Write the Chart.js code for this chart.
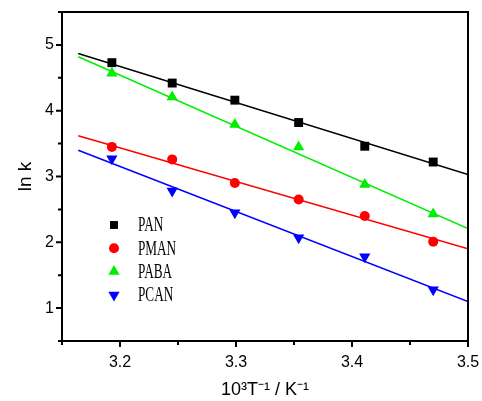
<!DOCTYPE html>
<html>
<head>
<meta charset="utf-8">
<script src="https://cdn.jsdelivr.net/npm/chart.js@4"></script>
<style>
  html, body { margin: 0; padding: 0; background: #fff; }
  #wrap { width: 482px; height: 401px; }
</style>
</head>
<body>
<div id="wrap"><canvas id="arrhenius"></canvas></div>
<script>
// 10^3 / T values (K^-1)
const invT = [3.193, 3.245, 3.299, 3.354, 3.411, 3.470];

// ln k for each polymer
const panK  = [4.73, 4.42, 4.16, 3.82, 3.46, 3.22];
const pmanK = [3.45, 3.26, 2.90, 2.65, 2.40, 2.01];
const pabaK = [4.57, 4.21, 3.79, 3.45, 2.88, 2.43];
const pcanK = [3.27, 2.78, 2.45, 2.07, 1.78, 1.28];

// fitted lines, read at both ends
const fitX    = [3.164, 3.5];
const panFit  = [4.87, 3.03];
const pmanFit = [3.62, 1.90];
const pabaFit = [4.82, 2.21];
const pcanFit = [3.40, 1.10];

const xTicks = [3.2, 3.3, 3.4, 3.5];
const yTicks = [1, 2, 3, 4, 5];
const xMinor = [3.15, 3.25, 3.35, 3.45];
const yMinor = [0.5, 1.5, 2.5, 3.5, 4.5, 5.5];

function pts(xs, ys) {
    return xs.map((x, i) => ({ x: x, y: ys[i] }));
}

const series = [
    { label: 'PAN',  data: panK,  fit: panFit,  color: '#000000', style: 'rect',     rot: 0,   r: 6.3 },
    { label: 'PMAN', data: pmanK, fit: pmanFit, color: '#ff0000', style: 'circle',   rot: 0,   r: 5 },
    { label: 'PABA', data: pabaK, fit: pabaFit, color: '#00ee00', style: 'triangle', rot: 0,   r: 6.5 },
    { label: 'PCAN', data: pcanK, fit: pcanFit, color: '#0000ff', style: 'triangle', rot: 180, r: 6.5 }
];

const datasets = [];
series.forEach(s => {
    datasets.push({
        label: s.label,
        data: pts(invT, s.data),
        showLine: false,
        pointStyle: s.style,
        rotation: s.rot,
        pointRadius: s.r,
        backgroundColor: s.color,
        borderColor: s.color,
        borderWidth: 0,
        order: 1
    });
});
series.forEach(s => {
    datasets.push({
        label: s.label + ' fit',
        data: pts(fitX, s.fit),
        showLine: true,
        pointRadius: 0,
        borderColor: s.color,
        borderWidth: 1.5,
        fill: false,
        order: 2
    });
});

// frame, tick marks and in-plot legend
const framePlugin = {
    id: 'frame',
    afterDraw(chart) {
        const ctx = chart.ctx;
        const a = chart.chartArea;
        const xs = chart.scales.x, ys = chart.scales.y;
        ctx.save();
        ctx.strokeStyle = '#000';
        ctx.lineWidth = 2;
        ctx.strokeRect(a.left, a.top, a.right - a.left, a.bottom - a.top);

        ctx.lineWidth = 2;
        ctx.beginPath();
        xTicks.forEach(v => {
            const p = xs.getPixelForValue(v);
            ctx.moveTo(p, a.bottom); ctx.lineTo(p, a.bottom + 6);
        });
        xMinor.forEach(v => {
            const p = xs.getPixelForValue(v);
            ctx.moveTo(p, a.bottom); ctx.lineTo(p, a.bottom + 4);
        });
        yTicks.forEach(v => {
            const p = ys.getPixelForValue(v);
            ctx.moveTo(a.left, p); ctx.lineTo(a.left - 6, p);
        });
        yMinor.forEach(v => {
            const p = ys.getPixelForValue(v);
            ctx.moveTo(a.left, p); ctx.lineTo(a.left - 4, p);
        });
        ctx.stroke();

        // legend (narrow serif text like the original)
        ctx.font = '20px "Liberation Serif", serif';
        ctx.textBaseline = 'middle';
        series.forEach((s, i) => {
            const y = 225 + i * 23.3;
            ctx.fillStyle = s.color;
            const r = s.style === 'rect' ? 5.6 : s.r;
            Chart.helpers.drawPoint(ctx, { pointStyle: s.style, rotation: s.rot, radius: r, borderWidth: 0 }, 114, y);
            ctx.fillStyle = '#000';
            ctx.save();
            ctx.translate(138, y + 1);
            ctx.scale(0.66, 1);
            ctx.fillText(s.label, 0, 0);
            ctx.restore();
        });
        ctx.restore();
    }
};

new Chart(document.getElementById('arrhenius'), {
    type: 'scatter',
    data: { datasets: datasets },
    options: {
        responsive: true,
        maintainAspectRatio: false,
        animation: false,
        layout: { padding: { left: 0, top: 12, right: 14, bottom: 0 } },
        plugins: {
            legend: { display: false },
            tooltip: { enabled: false }
        },
        scales: {
            x: {
                type: 'linear',
                min: 3.15,
                max: 3.5,
                afterBuildTicks: s => { s.ticks = xTicks.map(v => ({ value: v })); },
                afterFit: s => { s.height = 60; s.paddingLeft = 0; s.paddingRight = 0; },
                grid: { display: false, drawTicks: false },
                border: { display: false },
                ticks: {
                    padding: 12,
                    color: '#000',
                    font: { family: '"Liberation Sans", Arial, sans-serif', size: 16 },
                    callback: v => v.toFixed(1)
                },
                title: {
                    display: true,
                    text: '10³T⁻¹ / K⁻¹',
                    color: '#000',
                    font: { family: '"Liberation Sans", Arial, sans-serif', size: 18 },
                    padding: { top: 2, bottom: 0 }
                }
            },
            y: {
                type: 'linear',
                min: 0.5,
                max: 5.5,
                afterBuildTicks: s => { s.ticks = yTicks.map(v => ({ value: v })); },
                afterFit: s => { s.width = 62; s.paddingTop = 0; s.paddingBottom = 0; },
                grid: { display: false, drawTicks: false },
                border: { display: false },
                ticks: {
                    padding: 8,
                    color: '#000',
                    font: { family: '"Liberation Sans", Arial, sans-serif', size: 16 },
                    callback: v => String(v)
                },
                title: {
                    display: true,
                    text: 'ln k',
                    color: '#000',
                    font: { family: '"Liberation Sans", Arial, sans-serif', size: 19 },
                    padding: { top: 14, bottom: 4 }
                }
            }
        }
    },
    plugins: [framePlugin]
});
</script>
</body>
</html>
